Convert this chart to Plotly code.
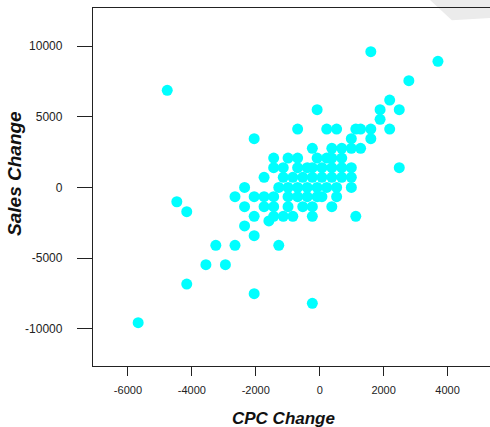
import plotly.graph_objects as go

cpc_change = [
    1600, 3700, -4770, 2790, 2190, 1890, 2490, 1890, -80,
    -690, 220, 530, 1130, 1280, 1600, 2190,
    -2050, 990, 1600,
    -230, 380, 690, 990, 1280,
    -1440, -990, -690, -80, 220, 380, 690,
    2490,
    -1440, -1140, -690, -390, -230, 70, 380, 690, 990,
    -1740, -1140, -840, -530, -230, 70, 380, 690, 990,
    -2350, -1280, -990, -690, -390, -80, 220, 530, 990,
    -2650, -2050, -1740, -1440, -990, -690, -390, -80, 70, 530,
    -4470, -4160,
    -2350, -1740, -1440, -990, -530, -230, 380,
    -2050, -1440, -1140, -840, -230, 1130,
    -1590, -2350, -2050,
    -3250, -2650, -1280,
    -3560, -2950,
    -4160, -2050, -230, -5680,
]
sales_change = [
    9600, 8920, 6870, 7550, 6180, 5500, 5500, 4820, 5500,
    4130, 4130, 4130, 4130, 4130, 4130, 4130,
    3450, 3450, 3450,
    2770, 2770, 2770, 2770, 2770,
    2080, 2080, 2080, 2080, 2080, 2080, 2080,
    1400,
    1400, 1400, 1400, 1400, 1400, 1400, 1400, 1400, 1400,
    720, 720, 720, 720, 720, 720, 720, 720, 720,
    0, 0, 0, 0, 0, 0, 0, 0, 0,
    -650, -650, -650, -650, -650, -650, -650, -650, -650, -650,
    -1010, -1710,
    -1360, -1360, -1360, -1360, -1360, -1360, -1360,
    -2040, -2040, -2040, -2040, -2040, -2040,
    -2370, -2720, -3410,
    -4090, -4090, -4090,
    -5460, -5460,
    -6830, -7510, -8190, -9560,
]

x_ticks = [-6000, -4000, -2000, 0, 2000, 4000]
y_ticks = [-10000, -5000, 0, 5000, 10000]

fig = go.Figure(go.Scatter(
    x=cpc_change, y=sales_change, mode="markers",
    marker=dict(size=11, color="#00FFFF", line=dict(width=0)),
    hoverinfo="skip",
))

font_family = "Liberation Sans, Arial, sans-serif"

fig.update_layout(
    width=490, height=427,
    margin=dict(l=93, r=0, t=8, b=61),
    paper_bgcolor="white", plot_bgcolor="white",
    showlegend=False,
    font=dict(family=font_family, color="#222"),
    xaxis=dict(
        range=[-7093, 5329], tickvals=x_ticks,
        ticktext=[str(v) for v in x_ticks],
        showgrid=False, zeroline=False,
        showline=True, mirror=True, linecolor="#222", linewidth=1.3,
        ticks="outside", ticklen=9, tickcolor="#222", tickwidth=1,
        tickfont=dict(size=11, color="#222"), ticklabelstandoff=5,
    ),
    yaxis=dict(
        range=[-12623, 12688], tickvals=y_ticks,
        ticktext=[str(v) for v in y_ticks],
        showgrid=False, zeroline=False,
        showline=True, mirror=False, linecolor="#222", linewidth=1.3,
        ticks="outside", ticklen=15, tickcolor="#222", tickwidth=1,
        tickfont=dict(size=12, color="#222"), ticklabelstandoff=12,
    ),
    annotations=[
        dict(text="<b><i>CPC Change</i></b>", xref="paper", yref="paper",
             x=0.481, y=-0.148, showarrow=False, xanchor="center", yanchor="middle",
             font=dict(size=17, color="#111", family=font_family)),
        dict(text="<b><i>Sales Change</i></b>", xref="paper", yref="paper",
             x=-0.196, y=0.537, showarrow=False, xanchor="center", yanchor="middle",
             textangle=-90, font=dict(size=19, color="#111", family=font_family)),
    ],
    shapes=[
        dict(type="path", xref="paper", yref="paper", layer="below",
             path="M 0.849 1.022 L 1 1.022 L 1 0.972 L 0.904 0.966 Z",
             fillcolor="#ebebeb", line=dict(width=0)),
    ],
)

fig.write_html("out.html")
